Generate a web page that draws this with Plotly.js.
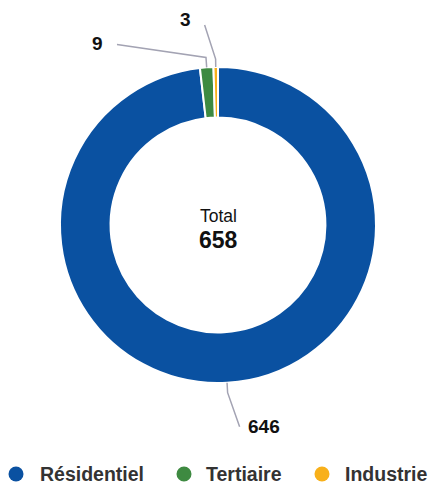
<!DOCTYPE html>
<html><head><meta charset="utf-8">
<script src="https://cdn.plot.ly/plotly-3.0.1.min.js"></script>
<style>html,body{margin:0;padding:0;background:#fff}#chart{width:429px;height:485px}</style>
</head><body><div id="chart"></div>
<script>
var categories = ["Résidentiel", "Tertiaire", "Industrie"];
var values = [646, 9, 3];
var colors = ["#0a51a1", "#3e8a41", "#f8b01a"];

var W = 429, H = 485;
var cx = 218, cy = 225, R = 158;
var FONT = "Liberation Sans, Arial, sans-serif";
// label leader offsets (px)
var labelStyle = [
  {ext: 10, end: [12, 34], text: [6, 0], anchor: "left"},
  {ext: 10, end: [-89, -13], text: [-12, -1], anchor: "right"},
  {ext: 8, end: [-11, -34], text: [-12, -6], anchor: "right"}
];
// legend layout (px)
var legendY = 474, legendMarkerX = [16, 184, 322], legendTextX = [38, 204, 343], legendR = 7.5;

var total = values.reduce(function(a, b){ return a + b; }, 0);
function px2x(p){ return p / W; }
function py2y(p){ return 1 - p / H; }

var shapes = [], annotations = [];
var cum = 0;
values.forEach(function(v, i){
  var th = (cum + v / 2) / total * 2 * Math.PI;
  cum += v;
  var s = labelStyle[i];
  var ax = cx + R * Math.sin(th), ay = cy - R * Math.cos(th);
  var ex = cx + (R + s.ext) * Math.sin(th), ey = cy - (R + s.ext) * Math.cos(th);
  var fx = ex + s.end[0], fy = ey + s.end[1];
  shapes.push({type: "path", xref: "paper", yref: "paper",
    path: "M " + px2x(ax) + " " + py2y(ay) + " L " + px2x(ex) + " " + py2y(ey) + " L " + px2x(fx) + " " + py2y(fy),
    line: {color: "#a3a3b3", width: 1.5}});
  annotations.push({xref: "paper", yref: "paper", x: px2x(fx + s.text[0]), y: py2y(fy + s.text[1]),
    xanchor: s.anchor, yanchor: "middle", showarrow: false,
    text: "<b>" + v + "</b>", font: {family: FONT, size: 19, color: "#111"}});
});

annotations.push({xref: "paper", yref: "paper", x: px2x(cx), y: py2y(216), showarrow: false,
  text: "Total", font: {family: FONT, size: 17.5, color: "#111"}});
annotations.push({xref: "paper", yref: "paper", x: px2x(cx), y: py2y(240), showarrow: false,
  text: "<b>" + total + "</b>", font: {family: FONT, size: 23, color: "#111"}});

// legend drawn from categories/colors
categories.forEach(function(c, i){
  var mx = legendMarkerX[i];
  shapes.push({type: "circle", xref: "paper", yref: "paper",
    x0: px2x(mx - legendR), x1: px2x(mx + legendR), y0: py2y(legendY + legendR), y1: py2y(legendY - legendR),
    fillcolor: colors[i], line: {width: 0}});
  annotations.push({xref: "paper", yref: "paper", x: px2x(legendTextX[i]), y: py2y(legendY),
    xanchor: "left", yanchor: "middle", showarrow: false, text: "<b>" + c + "</b>",
    font: {family: FONT, size: 19.5, color: "#333"}});
});

var traces = [{
  type: "pie", values: values, labels: categories, sort: false, direction: "clockwise", rotation: 0,
  hole: 0.68, marker: {colors: colors, line: {color: "#fff", width: 2}},
  textinfo: "none", showlegend: false, hoverinfo: "label+value",
  domain: {x: [px2x(cx - R), px2x(cx + R)], y: [py2y(cy + R), py2y(cy - R)]}
}];

var layout = {
  width: W, height: H, margin: {l: 0, r: 0, t: 0, b: 0},
  paper_bgcolor: "#fff", showlegend: false,
  shapes: shapes, annotations: annotations
};
Plotly.newPlot("chart", traces, layout, {displayModeBar: false, staticPlot: true});
</script></body></html>
